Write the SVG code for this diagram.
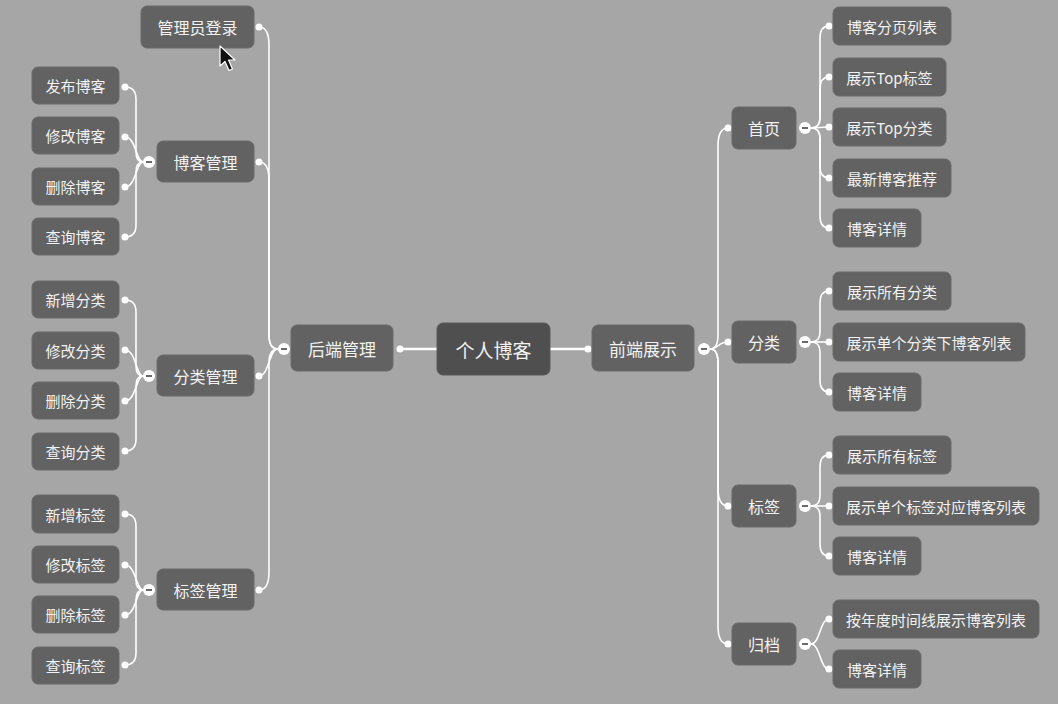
<svg xmlns="http://www.w3.org/2000/svg" width="1058" height="704" viewBox="0 0 1058 704">
<style>
.n rect{fill:#626262;stroke:#6b6b6b;stroke-width:1}
.c rect{fill:#4f4f4f;stroke:#5a5a5a;stroke-width:1}
text{font-family:"Noto Sans CJK SC","Noto Sans",sans-serif;fill:#f2f2f2;text-anchor:middle;dominant-baseline:central}
.s text{font-size:15px}
.m text{font-size:16px}
.l text{font-size:17px}
.c text{font-size:19px}
.e path{fill:none;stroke:#ffffff;stroke-width:1.6}
.e .w{stroke-width:2.6}
.d{fill:#ffffff}
.k circle{fill:#ffffff}
.k line{stroke:#6a6a6a;stroke-width:2}
</style>
<rect width="1058" height="704" fill="#a6a6a6"/>
<g id="connectors" class="e">
<path class="w" d="M437,349 L400,349"/>
<path class="w" d="M550,349 L588,349"/>
<path d="M278,349 Q269,349 269,335 L269,45 Q269,27 259,27"/>
<path d="M278,349 Q269,349 269,335 L269,180 Q269,162 259,162"/>
<path d="M278,349 C269,349 269,376 259,376"/>
<path d="M278,349 Q269,349 269,363 L269,572 Q269,590 259,590"/>
<path d="M710,349 Q718,349 718,335 L718,146 Q718,128 728,128"/>
<path d="M710,349 C718,349 718,342 728,342"/>
<path d="M710,349 Q718,349 718,363 L718,488 Q718,506 728,506"/>
<path d="M710,349 Q718,349 718,363 L718,626 Q718,644 728,644"/>
<path d="M143,162 Q136,162 136,152 L136,99 Q136,87 125,87"/>
<path d="M143,162 C136,162 136,137 125,137"/>
<path d="M143,162 C136,162 136,187 125,187"/>
<path d="M143,162 Q136,162 136,172 L136,225 Q136,237 125,237"/>
<path d="M143,376 Q136,376 136,366 L136,312 Q136,300 125,300"/>
<path d="M143,376 C136,376 136,350 125,350"/>
<path d="M143,376 C136,376 136,401 125,401"/>
<path d="M143,376 Q136,376 136,386 L136,439 Q136,451 125,451"/>
<path d="M143,590 Q136,590 136,580 L136,526 Q136,514 125,514"/>
<path d="M143,590 C136,590 136,565 125,565"/>
<path d="M143,590 C136,590 136,615 125,615"/>
<path d="M143,590 Q136,590 136,600 L136,653 Q136,665 125,665"/>
<path d="M811,128 Q820,128 820,118 L820,38 Q820,26 829,26"/>
<path d="M811,128 Q820,128 820,118 L820,89 Q820,77 829,77"/>
<path d="M811,128 L829,127"/>
<path d="M811,128 Q820,128 820,138 L820,166 Q820,178 829,178"/>
<path d="M811,128 Q820,128 820,138 L820,216 Q820,228 829,228"/>
<path d="M811,342 Q820,342 820,332 L820,303 Q820,291 829,291"/>
<path d="M811,342 L829,342"/>
<path d="M811,342 Q820,342 820,352 L820,380 Q820,392 829,392"/>
<path d="M811,506 Q820,506 820,496 L820,467 Q820,455 829,455"/>
<path d="M811,506 L829,506"/>
<path d="M811,506 Q820,506 820,516 L820,544 Q820,556 829,556"/>
<path d="M811,644 C820,644 820,619 829,619"/>
<path d="M811,644 C820,644 820,669 829,669"/>
</g>
<g id="dots" class="d">
<circle cx="400" cy="349" r="3.5"/><circle cx="588" cy="349" r="3.5"/>
<circle cx="259" cy="27" r="3.5"/><circle cx="259" cy="162" r="3.5"/><circle cx="259" cy="376" r="3.5"/><circle cx="259" cy="590" r="3.5"/>
<circle cx="728" cy="128" r="3.5"/><circle cx="728" cy="342" r="3.5"/><circle cx="728" cy="506" r="3.5"/><circle cx="728" cy="644" r="3.5"/>
<circle cx="125" cy="87" r="3.5"/><circle cx="125" cy="137" r="3.5"/><circle cx="125" cy="187" r="3.5"/><circle cx="125" cy="237" r="3.5"/>
<circle cx="125" cy="300" r="3.5"/><circle cx="125" cy="350" r="3.5"/><circle cx="125" cy="401" r="3.5"/><circle cx="125" cy="451" r="3.5"/>
<circle cx="125" cy="514" r="3.5"/><circle cx="125" cy="565" r="3.5"/><circle cx="125" cy="615" r="3.5"/><circle cx="125" cy="665" r="3.5"/>
<circle cx="829" cy="26" r="3.5"/><circle cx="829" cy="77" r="3.5"/><circle cx="829" cy="127" r="3.5"/><circle cx="829" cy="178" r="3.5"/><circle cx="829" cy="228" r="3.5"/>
<circle cx="829" cy="291" r="3.5"/><circle cx="829" cy="342" r="3.5"/><circle cx="829" cy="392" r="3.5"/>
<circle cx="829" cy="455" r="3.5"/><circle cx="829" cy="506" r="3.5"/><circle cx="829" cy="556" r="3.5"/>
<circle cx="829" cy="619" r="3.5"/><circle cx="829" cy="669" r="3.5"/>
</g>
<g id="collapse" class="k">
<circle cx="149" cy="162" r="6"/><line x1="146" y1="162" x2="152" y2="162"/>
<circle cx="149" cy="376" r="6"/><line x1="146" y1="376" x2="152" y2="376"/>
<circle cx="149" cy="590" r="6"/><line x1="146" y1="590" x2="152" y2="590"/>
<circle cx="284" cy="349" r="6"/><line x1="281" y1="349" x2="287" y2="349"/>
<circle cx="704" cy="349" r="6"/><line x1="701" y1="349" x2="707" y2="349"/>
<circle cx="805" cy="128" r="6"/><line x1="802" y1="128" x2="808" y2="128"/>
<circle cx="805" cy="342" r="6"/><line x1="802" y1="342" x2="808" y2="342"/>
<circle cx="805" cy="506" r="6"/><line x1="802" y1="506" x2="808" y2="506"/>
<circle cx="805" cy="644" r="6"/><line x1="802" y1="644" x2="808" y2="644"/>
</g>
<g id="root" class="c"><rect x="437" y="323" width="113" height="52" rx="6"/><text x="493.5" y="349">个人博客</text></g>
<g id="backend" class="n l"><rect x="291" y="325" width="102" height="46" rx="6"/><text x="342" y="348">后端管理</text></g>
<g id="frontend" class="n l"><rect x="592" y="325" width="102" height="46" rx="6"/><text x="643" y="348">前端展示</text></g>
<g id="login" class="n m"><rect x="141" y="6" width="113" height="42" rx="6"/><text x="197.5" y="27">管理员登录</text></g>
<g id="blogmgr" class="n m"><rect x="157" y="141" width="97" height="41" rx="6"/><text x="205.5" y="161.5">博客管理</text></g>
<g id="catmgr" class="n m"><rect x="157" y="355" width="97" height="41" rx="6"/><text x="205.5" y="375.5">分类管理</text></g>
<g id="tagmgr" class="n m"><rect x="157" y="569" width="97" height="41" rx="6"/><text x="205.5" y="589.5">标签管理</text></g>
<g id="b1" class="n s"><rect x="32" y="67" width="87" height="37" rx="6"/><text x="75.5" y="85.5">发布博客</text></g>
<g id="b2" class="n s"><rect x="32" y="117" width="87" height="37" rx="6"/><text x="75.5" y="135.5">修改博客</text></g>
<g id="b3" class="n s"><rect x="32" y="168" width="87" height="37" rx="6"/><text x="75.5" y="186.5">删除博客</text></g>
<g id="b4" class="n s"><rect x="32" y="218" width="87" height="37" rx="6"/><text x="75.5" y="236.5">查询博客</text></g>
<g id="c1" class="n s"><rect x="32" y="281" width="87" height="37" rx="6"/><text x="75.5" y="299.5">新增分类</text></g>
<g id="c2" class="n s"><rect x="32" y="332" width="87" height="37" rx="6"/><text x="75.5" y="350.5">修改分类</text></g>
<g id="c3" class="n s"><rect x="32" y="382" width="87" height="37" rx="6"/><text x="75.5" y="400.5">删除分类</text></g>
<g id="c4" class="n s"><rect x="32" y="433" width="87" height="37" rx="6"/><text x="75.5" y="451.5">查询分类</text></g>
<g id="t1" class="n s"><rect x="32" y="495" width="87" height="38" rx="6"/><text x="75.5" y="514">新增标签</text></g>
<g id="t2" class="n s"><rect x="32" y="546" width="87" height="37" rx="6"/><text x="75.5" y="564.5">修改标签</text></g>
<g id="t3" class="n s"><rect x="32" y="596" width="87" height="37" rx="6"/><text x="75.5" y="614.5">删除标签</text></g>
<g id="t4" class="n s"><rect x="32" y="647" width="87" height="37" rx="6"/><text x="75.5" y="665.5">查询标签</text></g>
<g id="home" class="n m"><rect x="732" y="107" width="64" height="42" rx="6"/><text x="764" y="128">首页</text></g>
<g id="cat" class="n m"><rect x="732" y="321" width="64" height="42" rx="6"/><text x="764" y="342">分类</text></g>
<g id="tag" class="n m"><rect x="732" y="485" width="64" height="42" rx="6"/><text x="764" y="506">标签</text></g>
<g id="archive" class="n m"><rect x="732" y="623" width="64" height="42" rx="6"/><text x="764" y="644">归档</text></g>
<g id="h1" class="n s"><rect x="833" y="7" width="118" height="38" rx="6"/><text x="892" y="26">博客分页列表</text></g>
<g id="h2" class="n s"><rect x="833" y="58" width="113" height="38" rx="6"/><text x="889.5" y="77">展示Top标签</text></g>
<g id="h3" class="n s"><rect x="833" y="108" width="113" height="38" rx="6"/><text x="889.5" y="127">展示Top分类</text></g>
<g id="h4" class="n s"><rect x="833" y="159" width="118" height="38" rx="6"/><text x="892" y="178">最新博客推荐</text></g>
<g id="h5" class="n s"><rect x="833" y="209" width="88" height="38" rx="6"/><text x="877" y="228">博客详情</text></g>
<g id="k1" class="n s"><rect x="833" y="272" width="118" height="38" rx="6"/><text x="892" y="291">展示所有分类</text></g>
<g id="k2" class="n s"><rect x="833" y="323" width="192" height="38" rx="6"/><text x="929" y="342">展示单个分类下博客列表</text></g>
<g id="k3" class="n s"><rect x="833" y="373" width="88" height="38" rx="6"/><text x="877" y="392">博客详情</text></g>
<g id="g1" class="n s"><rect x="833" y="436" width="118" height="38" rx="6"/><text x="892" y="455">展示所有标签</text></g>
<g id="g2" class="n s"><rect x="833" y="487" width="206" height="38" rx="6"/><text x="936" y="506">展示单个标签对应博客列表</text></g>
<g id="g3" class="n s"><rect x="833" y="537" width="88" height="38" rx="6"/><text x="877" y="556">博客详情</text></g>
<g id="a1" class="n s"><rect x="833" y="600" width="206" height="38" rx="6"/><text x="936" y="619">按年度时间线展示博客列表</text></g>
<g id="a2" class="n s"><rect x="833" y="650" width="88" height="38" rx="6"/><text x="877" y="669">博客详情</text></g>
<polygon points="220,46 220,66 225,61.5 229,70.5 232.5,69 228.5,60 235,60" fill="#111111" stroke="#ffffff" stroke-width="1.2" stroke-linejoin="round"/>
</svg>
